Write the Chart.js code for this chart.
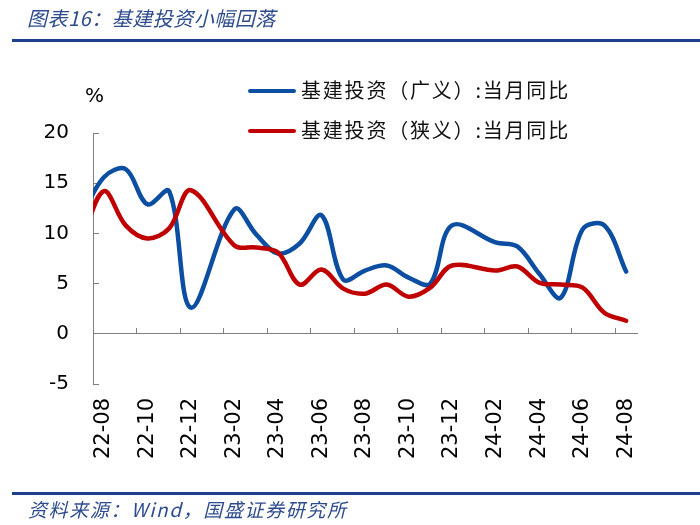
<!DOCTYPE html>
<html>
<head>
<meta charset="utf-8">
<script src="https://cdn.jsdelivr.net/npm/chart.js@4.4.1/dist/chart.umd.min.js"></script>
<style>
html, body { margin: 0; padding: 0; background: #ffffff; }
#wrap { position: relative; width: 700px; height: 525px; overflow: hidden; background: #fff; }
#c { position: absolute; left: 0; top: 0; }
.t { position: absolute; white-space: nowrap; font-family: "Noto Sans CJK SC", sans-serif; }
.rule { position: absolute; left: 12px; width: 688px; height: 3px; background: #1d3f8e; }
#title { left: 27px; top: 5px; font-size: 20px; line-height: 26px; font-style: italic; color: #2d4b8e; letter-spacing: 0.5px; }
#source { left: 28px; top: 496px; font-size: 19px; line-height: 26px; font-style: italic; color: #2d4b8e; letter-spacing: 1.6px; }
#unit { left: 85px; top: 82px; font-family: "DejaVu Sans", sans-serif; font-size: 20px; line-height: 26px; color: #000; }
.lg-line { position: absolute; height: 4px; width: 48px; left: 248px; border-radius: 2px; }
.lg-text { position: absolute; left: 301px; font-size: 20px; line-height: 26px; color: #111; letter-spacing: 1.8px; font-family: "Noto Sans CJK SC", sans-serif; white-space: nowrap; }
</style>
</head>
<body>
<div id="wrap">
  <canvas id="c" width="700" height="525"></canvas>
  <div class="t" id="title">图表16：基建投资小幅回落</div>
  <div class="rule" style="top:39px"></div>
  <div class="rule" style="top:492px"></div>
  <div id="legend"></div>
  <div class="t" id="unit">%</div>
  <div class="t" id="source">资料来源：Wind，国盛证券研究所</div>
</div>
<script>
// Months (22-07 lies just left of the visible axis; January values are not published)
const months = ['22-07','22-08','22-09','22-10','22-11','22-12',
  '23-01','23-02','23-03','23-04','23-05','23-06','23-07','23-08','23-09','23-10','23-11','23-12',
  '24-01','24-02','24-03','24-04','24-05','24-06','24-07','24-08'];

// 基建投资（广义）:当月同比
const broadYoY = [11.8, 15.6, 16.4, 12.9, 14.2, 2.6,
  null, 12.4, 9.9, 8.0, 9.0, 11.8, 5.4, 6.3, 6.8, 5.6, 5.0, 10.8,
  null, 9.1, 8.7, 6.0, 3.6, 10.4, 10.8, 6.2];

// 基建投资（狭义）:当月同比
const narrowYoY = [9.5, 14.2, 10.8, 9.5, 10.5, 14.3,
  null, 8.8, 8.6, 8.1, 4.9, 6.4, 4.5, 4.0, 4.9, 3.7, 4.6, 6.8,
  null, 6.3, 6.7, 5.1, 4.9, 4.6, 2.1, 1.3];

const seriesNames = ['基建投资（广义）:当月同比', '基建投资（狭义）:当月同比'];
const seriesColors = ['#0b4ea2', '#c00000'];

// Axis tick labels
const xTickLabels = ['22-08','22-10','22-12','23-02','23-04','23-06','23-08','23-10','23-12','24-02','24-04','24-06','24-08'];
const yTickValues = [-5, 0, 5, 10, 15, 20];

// category i is centred at (i - 0.5); visible range 0..25 covers 22-08 .. 24-08
const toPoints = arr => arr.map((v, i) => ({ x: i - 0.5, y: v }));
const xMin = 0, xMax = months.length - 1;

const yFont = { family: 'DejaVu Sans', size: 20 };
const xFont = { family: 'DejaVu Sans', size: 21 };

new Chart(document.getElementById('c'), {
  type: 'line',
  data: {
    datasets: [broadYoY, narrowYoY].map((arr, k) => ({
      label: seriesNames[k],
      data: toPoints(arr),
      borderColor: seriesColors[k],
      backgroundColor: seriesColors[k],
      borderWidth: 4.5,
      pointRadius: 0,
      tension: 0.35,
      spanGaps: true,
      borderCapStyle: 'round',
      borderJoinStyle: 'round',
      clip: { left: 0, right: 10, top: 10, bottom: 10 },
      order: 1 - k
    }))
  },
  options: {
    responsive: false,
    animation: false,
    devicePixelRatio: 1,
    layout: { padding: { left: 0, right: 63, top: 133, bottom: 51 } },
    plugins: { legend: { display: false }, tooltip: { enabled: false } },
    scales: {
      x: {
        type: 'linear', position: 'bottom', min: xMin, max: xMax,
        afterBuildTicks: s => { s.ticks = xTickLabels.map(l => ({ value: months.indexOf(l) - 0.5 })); },
        afterFit: s => { s.height = 90; },
        ticks: {
          autoSkip: false, maxRotation: 90, minRotation: 90, padding: 14,
          font: xFont, color: '#000',
          callback: v => months[Math.round(v + 0.5)]
        },
        grid: { display: false, drawTicks: false },
        border: { display: false }
      },
      x0: {
        type: 'linear', position: { y: 0 }, min: xMin, max: xMax,
        afterBuildTicks: s => { s.ticks = xTickLabels.map(l => ({ value: months.indexOf(l) - 1 })); },
        ticks: { display: false },
        grid: { drawOnChartArea: false, tickLength: -6, color: '#7f7f7f', lineWidth: 1 },
        border: { color: '#7f7f7f', width: 1 }
      },
      y: {
        type: 'linear', position: 'left', min: -5, max: 20,
        afterBuildTicks: s => { s.ticks = yTickValues.map(v => ({ value: v })); },
        afterFit: s => { s.width = 93; },
        ticks: { padding: 30, font: yFont, color: '#000' },
        grid: { drawOnChartArea: false, tickLength: -6, color: '#7f7f7f', lineWidth: 1 },
        border: { color: '#7f7f7f', width: 1 }
      }
    }
  }
});

// HTML legend built from the series
const lg = document.getElementById('legend');
seriesNames.forEach((name, k) => {
  const yc = 91 + k * 40;
  const line = document.createElement('div');
  line.className = 'lg-line';
  line.style.top = (yc - 2) + 'px';
  line.style.background = seriesColors[k];
  lg.appendChild(line);
  const txt = document.createElement('div');
  txt.className = 'lg-text';
  txt.style.top = (yc - 14) + 'px';
  txt.textContent = name;
  lg.appendChild(txt);
});
</script>
</body>
</html>
